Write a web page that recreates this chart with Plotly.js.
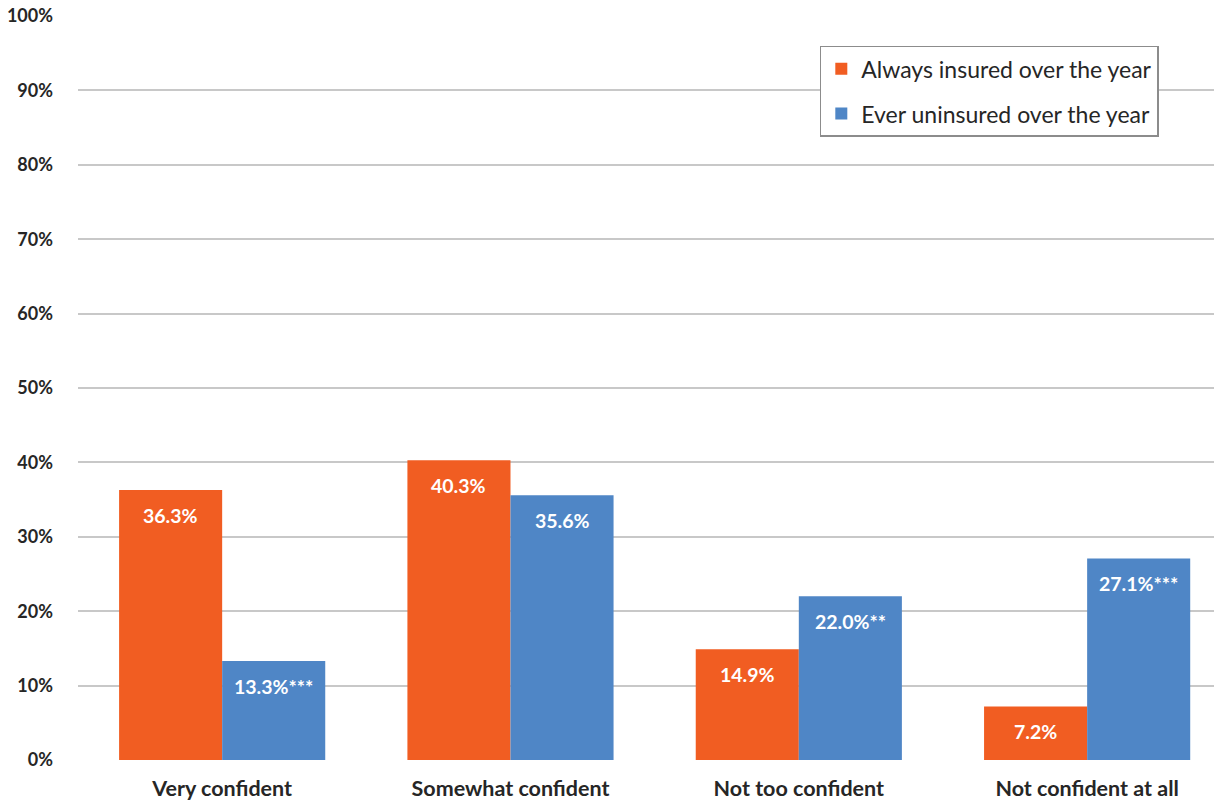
<!DOCTYPE html>
<html>
<head>
<meta charset="utf-8">
<script src="https://cdn.plot.ly/plotly-3.0.1.min.js"></script>
<style>html,body{margin:0;padding:0;background:#fff;}#chart{width:1214px;height:803px;}</style>
</head>
<body>
<div id="chart"></div>
<script>
const categories = ["Very confident", "Somewhat confident", "Not too confident", "Not confident at all"];
const alwaysInsured = [36.3, 40.3, 14.9, 7.2];
const everUninsured = [13.3, 35.6, 22.0, 27.1];
const alwaysLabels = ["36.3%", "40.3%", "14.9%", "7.2%"];
const everLabels = ["13.3%***", "35.6%", "22.0%**", "27.1%***"];
const seriesNames = ["Always insured over the year", "Ever uninsured over the year"];
const tickVals = [0, 10, 20, 30, 40, 50, 60, 70, 80, 90, 100];
const tickText = ["0%", "10%", "20%", "30%", "40%", "50%", "60%", "70%", "80%", "90%", "100%"];

const fontFam = "Lato, 'Open Sans', sans-serif";
const labelFont = {family: fontFam, size: 19.5, color: "#ffffff", weight: "bold"};
const bargap = 0.285;
const barW = (1 - bargap) / 2;

const traces = [
  {type: "bar", name: seriesNames[0], legendgroup: "a", x: categories, y: alwaysInsured,
   marker: {color: "#F15D22"}, hoverinfo: "x+y"},
  {type: "bar", name: seriesNames[1], legendgroup: "b", x: categories, y: everUninsured,
   marker: {color: "#4F86C6"}, hoverinfo: "x+y"}
];

const annotations = [];
categories.forEach((c, i) => {
  annotations.push({x: i - barW / 2, y: alwaysInsured[i], xref: "x", yref: "y", text: alwaysLabels[i],
    showarrow: false, yanchor: "top", yshift: -12, font: labelFont});
  annotations.push({x: i + barW / 2, y: everUninsured[i], xref: "x", yref: "y", text: everLabels[i],
    showarrow: false, yanchor: "top", yshift: -12, font: labelFont});
});

const layout = {
  width: 1214, height: 803,
  margin: {l: 78, r: 0, t: 16, b: 43},
  paper_bgcolor: "#ffffff", plot_bgcolor: "#ffffff",
  barmode: "group", bargap: bargap, bargroupgap: 0,
  showlegend: true,
  annotations: annotations,
  legend: {x: 0.653, y: 0.96, xanchor: "left", yanchor: "top",
           bgcolor: "#ffffff", bordercolor: "#8c8c8c", borderwidth: 1.5,
           font: {family: fontFam, size: 23, color: "#262626"}, tracegroupgap: 12,
           itemwidth: 30},
  xaxis: {type: "category", range: [-0.5, 3.44], showgrid: false, zeroline: false,
          showline: false, ticks: "", ticklabelstandoff: 13,
          tickfont: {family: fontFam, size: 21.5, color: "#262626", weight: "bold"}},
  yaxis: {range: [0, 100], tickvals: tickVals, ticktext: tickText, showgrid: true,
          gridcolor: "#c8c8c8", gridwidth: 2, zeroline: false, showline: false,
          ticks: "", ticklabelstandoff: 24,
          tickfont: {family: fontFam, size: 18, color: "#262626", weight: "bold"}}
};

Plotly.newPlot("chart", traces, layout, {displayModeBar: false, staticPlot: true});
</script>
</body>
</html>
